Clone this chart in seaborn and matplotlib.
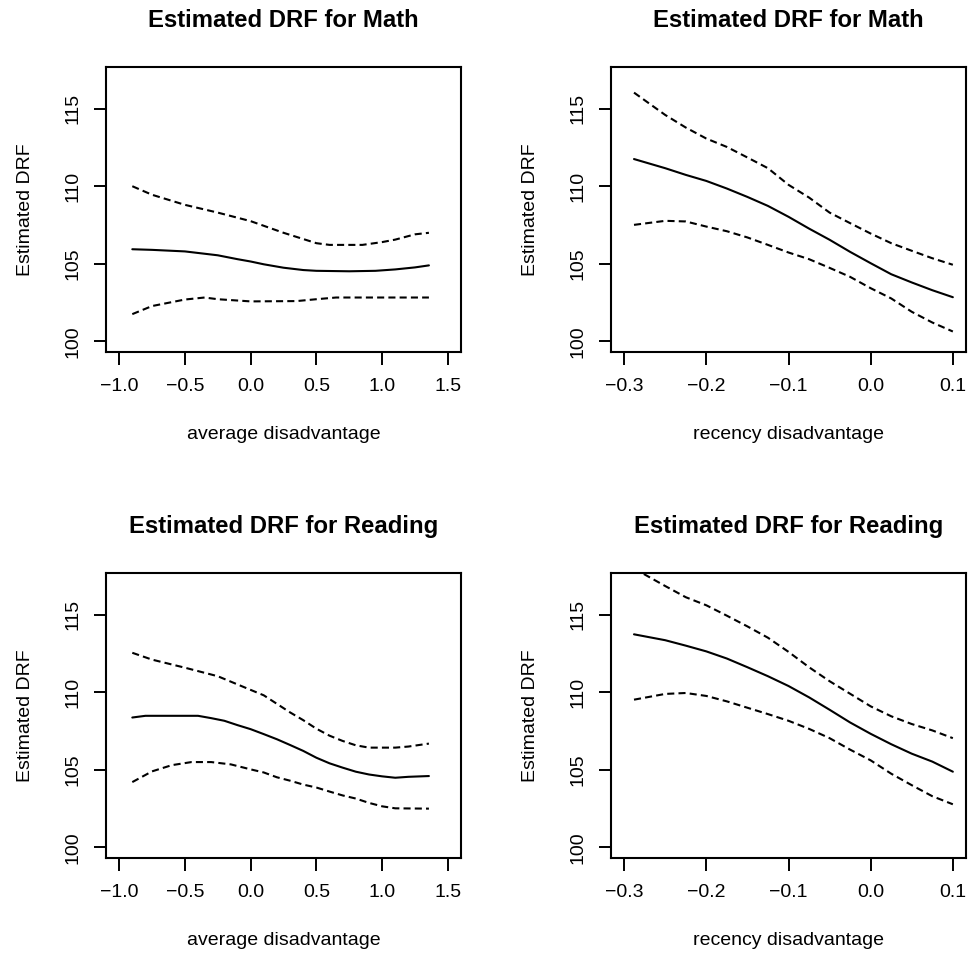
import matplotlib
matplotlib.use("Agg")
import matplotlib.pyplot as plt
import seaborn as sns
import pandas as pd

# ---------------- data ----------------
# Panel 1: Math vs average disadvantage
math_avg_x = [-0.9, -0.75, -0.5, -0.4, -0.25, -0.1, 0.0, 0.1, 0.25, 0.4, 0.5, 0.75, 0.95, 1.1, 1.25, 1.356]
math_avg_est = [105.94, 105.9, 105.8, 105.7, 105.55, 105.3, 105.15, 104.97, 104.75, 104.6, 104.55, 104.52, 104.55, 104.64, 104.77, 104.9]
math_avg_up_x = [-0.9, -0.75, -0.5, -0.25, 0.0, 0.25, 0.5, 0.6, 0.85, 1.0, 1.1, 1.25, 1.356]
math_avg_up = [110.0, 109.45, 108.8, 108.3, 107.75, 107.0, 106.33, 106.22, 106.22, 106.4, 106.56, 106.9, 107.0]
math_avg_lo_x = [-0.9, -0.75, -0.5, -0.35, -0.25, 0.0, 0.35, 0.5, 0.65, 1.356]
math_avg_lo = [101.76, 102.28, 102.7, 102.83, 102.72, 102.58, 102.6, 102.72, 102.83, 102.83]

# Panel 2: Math vs recency disadvantage
rec_x = [-0.288, -0.25, -0.225, -0.2, -0.175, -0.15, -0.125, -0.1, -0.075, -0.05, -0.025, 0.0, 0.025, 0.05, 0.075, 0.1]
math_rec_est = [111.75, 111.16, 110.73, 110.34, 109.85, 109.31, 108.73, 108.03, 107.27, 106.55, 105.77, 105.04, 104.33, 103.8, 103.3, 102.85]
math_rec_up = [116.03, 114.59, 113.78, 113.07, 112.53, 111.85, 111.16, 110.09, 109.27, 108.3, 107.62, 106.95, 106.33, 105.84, 105.36, 104.94]
math_rec_lo = [107.51, 107.77, 107.73, 107.4, 107.1, 106.7, 106.22, 105.73, 105.3, 104.74, 104.16, 103.43, 102.77, 101.91, 101.22, 100.64]

# Panel 3: Reading vs average disadvantage
read_avg_x = [-0.9, -0.8, -0.6, -0.4, -0.3, -0.2, -0.1, 0.0, 0.1, 0.2, 0.3, 0.4, 0.5, 0.6, 0.7, 0.8, 0.9, 1.0, 1.1, 1.2, 1.356]
read_avg_est = [108.37, 108.48, 108.48, 108.48, 108.33, 108.16, 107.88, 107.62, 107.3, 106.97, 106.6, 106.22, 105.78, 105.42, 105.14, 104.88, 104.7, 104.58, 104.49, 104.55, 104.6]
read_avg_up_x = [-0.9, -0.75, -0.5, -0.25, 0.0, 0.1, 0.2, 0.3, 0.4, 0.5, 0.6, 0.7, 0.8, 0.9, 1.1, 1.2, 1.356]
read_avg_up = [112.54, 112.1, 111.58, 111.03, 110.15, 109.8, 109.25, 108.7, 108.2, 107.65, 107.2, 106.86, 106.58, 106.43, 106.43, 106.5, 106.69]
read_avg_lo_x = [-0.9, -0.75, -0.6, -0.45, -0.3, -0.15, 0.0, 0.1, 0.2, 0.3, 0.4, 0.5, 0.6, 0.7, 0.8, 0.9, 1.0, 1.1, 1.356]
read_avg_lo = [104.21, 104.9, 105.3, 105.5, 105.5, 105.35, 105.03, 104.83, 104.52, 104.3, 104.05, 103.86, 103.6, 103.35, 103.15, 102.87, 102.65, 102.52, 102.5]

# Panel 4: Reading vs recency disadvantage
read_rec_est = [113.73, 113.35, 113.0, 112.63, 112.17, 111.61, 111.03, 110.4, 109.67, 108.87, 108.05, 107.32, 106.65, 106.04, 105.53, 104.88]
read_rec_up = [117.97, 116.84, 116.12, 115.6, 114.93, 114.24, 113.51, 112.6, 111.61, 110.71, 109.9, 109.09, 108.45, 107.95, 107.54, 107.04]
read_rec_lo = [109.52, 109.89, 109.95, 109.76, 109.41, 109.0, 108.59, 108.16, 107.64, 107.04, 106.3, 105.61, 104.75, 104.01, 103.3, 102.78]

titles = ["Estimated DRF for Math", "Estimated DRF for Math",
          "Estimated DRF for Reading", "Estimated DRF for Reading"]
xlabels = ["average disadvantage", "recency disadvantage",
           "average disadvantage", "recency disadvantage"]
ylabel = "Estimated DRF"
avg_ticks = [-1.0, -0.5, 0.0, 0.5, 1.0, 1.5]
rec_ticks = [-0.3, -0.2, -0.1, 0.0, 0.1]
y_ticks = [100, 105, 110, 115]

# ---------------- style ----------------
sns.set_theme(style="white")
plt.rcParams["font.family"] = ["Liberation Sans", "DejaVu Sans"]
plt.rcParams["lines.dashed_pattern"] = [3.4, 2.0]
plt.rcParams["axes.unicode_minus"] = True

W, H = 969, 956
fig = plt.figure(figsize=(W / 100, H / 100), dpi=100)

boxes = [(106, 67), (611, 67), (106, 573), (611, 573)]
bw, bh = 355, 285

panels = [
    [(math_avg_x, math_avg_est, "-"), (math_avg_up_x, math_avg_up, "--"), (math_avg_lo_x, math_avg_lo, "--")],
    [(rec_x, math_rec_est, "-"), (rec_x, math_rec_up, "--"), (rec_x, math_rec_lo, "--")],
    [(read_avg_x, read_avg_est, "-"), (read_avg_up_x, read_avg_up, "--"), (read_avg_lo_x, read_avg_lo, "--")],
    [(rec_x, read_rec_est, "-"), (rec_x, read_rec_up, "--"), (rec_x, read_rec_lo, "--")],
]

for i, (px, py) in enumerate(boxes):
    ax = fig.add_axes([px / W, 1 - (py + bh) / H, bw / W, bh / H])
    for xs, ys, ls in panels[i]:
        df = pd.DataFrame({"x": xs, "y": ys})
        sns.lineplot(data=df, x="x", y="y", ax=ax, color="black",
                     linewidth=1.5, linestyle=ls, estimator=None, sort=True)
    ticks = avg_ticks if i % 2 == 0 else rec_ticks
    span = ticks[-1] - ticks[0]
    ax.set_xlim(ticks[0] - 0.04 * span, ticks[-1] + 0.04 * span)
    ax.set_ylim(100 - 0.04 * 17, 117 + 0.04 * 17)
    ax.set_xticks(ticks)
    ax.set_yticks(y_ticks)
    for s in ax.spines.values():
        s.set_visible(True)
        s.set_color("black")
        s.set_linewidth(1.5)
    ax.tick_params(axis="both", which="major", direction="out", length=9,
                   width=1.4, color="black", labelsize=14, labelcolor="black",
                   bottom=True, left=True, top=False, right=False)
    ax.tick_params(axis="x", pad=9.5)
    ax.tick_params(axis="y", pad=8.5, labelrotation=90)
    for lab in ax.get_yticklabels():
        lab.set_va("center")
    ax.set_title(titles[i], fontsize=17.2, fontweight="bold", pad=28.5, color="black")
    ax.set_xlabel(xlabels[i], fontsize=14, color="black")
    ax.set_ylabel(ylabel, fontsize=14, color="black")
    ax.xaxis.set_label_coords(0.5, -(425.7 - 352) / 285)
    ax.yaxis.set_label_coords((34 - 106) / 355, 0.5)
    ax.grid(False)

fig.savefig("out.png", dpi=100, facecolor="white")
